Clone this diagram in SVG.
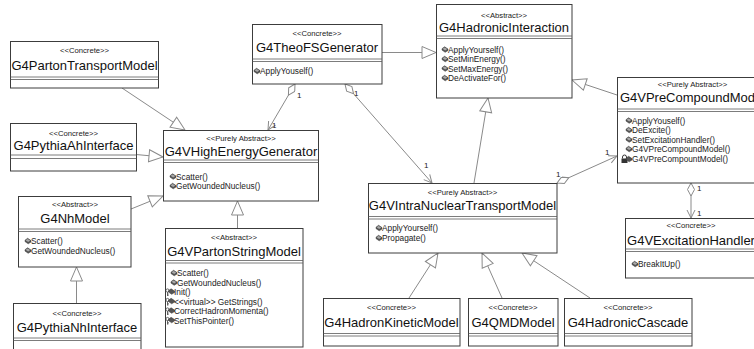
<svg xmlns="http://www.w3.org/2000/svg" xmlns:xlink="http://www.w3.org/1999/xlink" width="754" height="349" viewBox="0 0 754 349">
  <style>
    .box { fill: #ffffff; stroke: #3c3c3c; stroke-width: 1; }
    .sep { stroke: #5a5a5a; stroke-width: 0.8; fill: none; }
    .st { font-family: "Liberation Sans", Arial, sans-serif; font-size: 7.7px; fill: #222; text-anchor: middle; }
    .nm { font-family: "Liberation Sans", Arial, sans-serif; font-size: 13px; fill: #111; text-anchor: middle; }
    .op { font-family: "Liberation Sans", Arial, sans-serif; font-size: 8.3px; fill: #222; }
    .mul { font-family: "Liberation Sans", Arial, sans-serif; font-size: 8px; fill: #222; }
    .gen { stroke: #8a8a8a; stroke-width: 1; fill: none; marker-end: url(#tri); }
    .agg { stroke: #8a8a8a; stroke-width: 1; fill: none; marker-start: url(#dia); marker-end: url(#open); }
  </style>
  <defs>
    <!-- hollow generalization triangle -->
    <marker id="tri" viewBox="0 0 16 14" refX="15" refY="7" markerWidth="16" markerHeight="14" markerUnits="userSpaceOnUse" orient="auto">
      <path d="M1,1 L15,7 L1,13 Z" fill="#fff" stroke="#8a8a8a" stroke-width="1"/>
    </marker>
    <!-- open navigability arrow -->
    <marker id="open" viewBox="0 0 10 10" refX="9" refY="5" markerWidth="10" markerHeight="10" markerUnits="userSpaceOnUse" orient="auto">
      <path d="M1,1 L9,5 L1,9" fill="none" stroke="#8a8a8a" stroke-width="1"/>
    </marker>
    <!-- hollow aggregation diamond -->
    <marker id="dia" viewBox="0 0 14 8" refX="0.5" refY="4" markerWidth="14" markerHeight="8" markerUnits="userSpaceOnUse" orient="auto">
      <path d="M0.5,4 L7,0.5 L13.5,4 L7,7.5 Z" fill="#fff" stroke="#8a8a8a" stroke-width="1"/>
    </marker>
    <!-- public operation icon -->
    <symbol id="pub" viewBox="0 0 6 6" width="6" height="6" overflow="visible">
      <path d="M0,2.2 L2.6,0.3 L6,2.6 L6,4 L3.2,5.8 L0,3.6 Z" fill="#555" stroke="#333" stroke-width="0.5"/>
      <path d="M0.6,2.3 L2.6,0.9 L5.2,2.6 L3.2,4 Z" fill="#aaa"/>
    </symbol>
    <!-- protected operation icon (key + brick) -->
    <symbol id="prot" viewBox="0 0 9 8" width="9" height="8" overflow="visible">
      <circle cx="2" cy="2" r="1.6" fill="none" stroke="#444" stroke-width="0.8"/>
      <path d="M2,3.6 L2,7.5 M2,5.5 L3.2,5.5 M2,6.8 L3.2,6.8" stroke="#444" stroke-width="0.8"/>
      <path d="M3,2.2 L5.6,0.3 L9,2.6 L9,4 L6.2,5.8 L3,3.6 Z" fill="#555" stroke="#333" stroke-width="0.5"/>
    </symbol>
    <!-- private operation icon (lock + brick) -->
    <symbol id="priv" viewBox="0 0 11 8" width="11" height="8" overflow="visible">
      <path d="M1.5,3.5 L1.5,2 A2,2 0 0 1 5.5,2 L5.5,3.5" fill="none" stroke="#222" stroke-width="0.9"/>
      <rect x="0.5" y="3.5" width="6" height="4.5" fill="#333"/>
      <path d="M5,3.2 L7.6,1.3 L11,3.6 L11,5 L8.2,6.8 L5,4.6 Z" fill="#555" stroke="#333" stroke-width="0.5"/>
    </symbol>
  </defs>

  <!-- connectors -->
  <g id="connectors">
    <!-- generalizations -->
    <line class="gen" x1="122" y1="88" x2="185" y2="130"/>
    <line class="gen" x1="136" y1="154.5" x2="163" y2="157"/>
    <line class="gen" x1="131" y1="209" x2="163" y2="196"/>
    <line class="gen" x1="76.5" y1="303" x2="76.5" y2="267"/>
    <line class="gen" x1="237.5" y1="228" x2="237.5" y2="201"/>
    <line class="gen" x1="382" y1="52.5" x2="436" y2="52.5"/>
    <line class="gen" x1="474" y1="183" x2="488" y2="98"/>
    <line class="gen" x1="617" y1="95" x2="572" y2="80"/>
    <line class="gen" x1="409" y1="298" x2="438" y2="253"/>
    <line class="gen" x1="502" y1="298" x2="482" y2="253"/>
    <line class="gen" x1="590" y1="298" x2="522" y2="253"/>
    <!-- aggregations -->
    <line class="agg" x1="295" y1="84" x2="268" y2="130"/>
    <line class="agg" x1="345" y1="84" x2="432" y2="183"/>
    <line class="agg" x1="557" y1="183" x2="617" y2="156"/>
    <line class="agg" x1="691" y1="183" x2="691" y2="218"/>
    <!-- multiplicities -->
    <text class="mul" x="297" y="98">1</text>
    <text class="mul" x="272" y="128">1</text>
    <text class="mul" x="354" y="96">1</text>
    <text class="mul" x="424" y="168">1</text>
    <text class="mul" x="556" y="177">1</text>
    <text class="mul" x="605" y="155">1</text>
    <text class="mul" x="697" y="191">1</text>
    <text class="mul" x="697" y="216">1</text>
  </g>

  <!-- class boxes -->
  <g id="G4PartonTransportModel">
    <rect class="box" x="10.5" y="41.5" width="148" height="46.5"/>
    <line class="sep" x1="10.5" y1="77" x2="158.5" y2="77"/>
    <line class="sep" x1="10.5" y1="79.5" x2="158.5" y2="79.5"/>
    <text class="st" x="84.5" y="53">&lt;&lt;Concrete&gt;&gt;</text>
    <text class="nm" x="84.5" y="70">G4PartonTransportModel</text>
  </g>

  <g id="G4PythiaAhInterface">
    <rect class="box" x="10.5" y="123.5" width="126" height="47.5"/>
    <line class="sep" x1="10.5" y1="155" x2="136.5" y2="155"/>
    <line class="sep" x1="10.5" y1="158.5" x2="136.5" y2="158.5"/>
    <text class="st" x="73.5" y="136">&lt;&lt;Concrete&gt;&gt;</text>
    <text class="nm" x="73.5" y="150">G4PythiaAhInterface</text>
  </g>

  <g id="G4VHighEnergyGenerator">
    <rect class="box" x="163.5" y="130.5" width="155" height="70.5"/>
    <line class="sep" x1="163.5" y1="160" x2="318.5" y2="160"/>
    <line class="sep" x1="163.5" y1="162.5" x2="318.5" y2="162.5"/>
    <text class="st" x="241" y="141">&lt;&lt;Purely Abstract&gt;&gt;</text>
    <text class="nm" x="241" y="156">G4VHighEnergyGenerator</text>
    <use href="#pub" x="170" y="173.5"/>
    <text class="op" x="176" y="179.5">Scatter()</text>
    <use href="#pub" x="170" y="183"/>
    <text class="op" x="176" y="189">GetWoundedNucleus()</text>
  </g>

  <g id="G4NhModel">
    <rect class="box" x="18.5" y="196.5" width="112.5" height="70.5"/>
    <line class="sep" x1="18.5" y1="229" x2="131" y2="229"/>
    <line class="sep" x1="18.5" y1="231.5" x2="131" y2="231.5"/>
    <text class="st" x="75" y="207">&lt;&lt;Abstract&gt;&gt;</text>
    <text class="nm" x="75" y="223">G4NhModel</text>
    <use href="#pub" x="25" y="238"/>
    <text class="op" x="31" y="244">Scatter()</text>
    <use href="#pub" x="25" y="247.5"/>
    <text class="op" x="31" y="253.5">GetWoundedNucleus()</text>
  </g>

  <g id="G4PythiaNhInterface">
    <rect class="box" x="13.5" y="303.5" width="127.5" height="60"/>
    <line class="sep" x1="13.5" y1="338" x2="141" y2="338"/>
    <line class="sep" x1="13.5" y1="340.5" x2="141" y2="340.5"/>
    <text class="st" x="77" y="316">&lt;&lt;Concrete&gt;&gt;</text>
    <text class="nm" x="77" y="332">G4PythiaNhInterface</text>
  </g>

  <g id="G4VPartonStringModel">
    <rect class="box" x="165.5" y="228.5" width="137.5" height="118.5"/>
    <line class="sep" x1="165.5" y1="260.5" x2="303" y2="260.5"/>
    <line class="sep" x1="165.5" y1="263" x2="303" y2="263"/>
    <text class="st" x="234" y="240">&lt;&lt;Abstract&gt;&gt;</text>
    <text class="nm" x="234" y="256">G4VPartonStringModel</text>
    <use href="#pub" x="171" y="270"/>
    <text class="op" x="177" y="276">Scatter()</text>
    <use href="#pub" x="171" y="279.5"/>
    <text class="op" x="177" y="285.5">GetWoundedNucleus()</text>
    <use href="#prot" x="165.5" y="288.5"/>
    <text class="op" x="174" y="295">Init()</text>
    <use href="#prot" x="165.5" y="298"/>
    <text class="op" x="174" y="304.5">&lt;&lt;virtual&gt;&gt; GetStrings()</text>
    <use href="#prot" x="165.5" y="307.5"/>
    <text class="op" x="174" y="314">CorrectHadronMomenta()</text>
    <use href="#prot" x="165.5" y="317"/>
    <text class="op" x="174" y="323.5">SetThisPointer()</text>
  </g>

  <g id="G4TheoFSGenerator">
    <rect class="box" x="252.5" y="24.5" width="129.5" height="59.5"/>
    <line class="sep" x1="252.5" y1="59" x2="382" y2="59"/>
    <line class="sep" x1="252.5" y1="61.5" x2="382" y2="61.5"/>
    <text class="st" x="317" y="36">&lt;&lt;Concrete&gt;&gt;</text>
    <text class="nm" x="317" y="52">G4TheoFSGenerator</text>
    <use href="#pub" x="254" y="68"/>
    <text class="op" x="260" y="74">ApplyYouself()</text>
  </g>

  <g id="G4HadronicInteraction">
    <rect class="box" x="436.5" y="4.5" width="135.5" height="93.5"/>
    <line class="sep" x1="436.5" y1="36" x2="572" y2="36"/>
    <line class="sep" x1="436.5" y1="38.5" x2="572" y2="38.5"/>
    <text class="st" x="504" y="18">&lt;&lt;Abstract&gt;&gt;</text>
    <text class="nm" x="504" y="32">G4HadronicInteraction</text>
    <use href="#pub" x="442" y="46.5"/>
    <text class="op" x="448" y="52.5">ApplyYourself()</text>
    <use href="#pub" x="442" y="56"/>
    <text class="op" x="448" y="62">SetMinEnergy()</text>
    <use href="#pub" x="442" y="65.5"/>
    <text class="op" x="448" y="71.5">SetMaxEnergy()</text>
    <use href="#pub" x="442" y="75"/>
    <text class="op" x="448" y="81">DeActivateFor()</text>
  </g>

  <g id="G4VPreCompoundModel">
    <rect class="box" x="617.5" y="77.5" width="151" height="105.5"/>
    <line class="sep" x1="617.5" y1="109" x2="768.5" y2="109"/>
    <line class="sep" x1="617.5" y1="111.5" x2="768.5" y2="111.5"/>
    <text class="st" x="692.5" y="87">&lt;&lt;Purely Abstract&gt;&gt;</text>
    <text class="nm" x="692.5" y="102">G4VPreCompoundModel</text>
    <use href="#pub" x="626" y="117.5"/>
    <text class="op" x="632" y="123.5">ApplyYouself()</text>
    <use href="#pub" x="626" y="127"/>
    <text class="op" x="632" y="133">DeExcite()</text>
    <use href="#pub" x="626" y="136.5"/>
    <text class="op" x="632" y="142.5">SetExcitationHandler()</text>
    <use href="#pub" x="626" y="146"/>
    <text class="op" x="632" y="152">G4VPreCompoundModel()</text>
    <use href="#priv" x="621" y="155"/>
    <text class="op" x="632" y="161.5">G4VPreCompountModel()</text>
  </g>

  <g id="G4VExcitationHandler">
    <rect class="box" x="625.5" y="218.5" width="132" height="59.5"/>
    <line class="sep" x1="625.5" y1="249" x2="757.5" y2="249"/>
    <line class="sep" x1="625.5" y1="251.5" x2="757.5" y2="251.5"/>
    <text class="st" x="691" y="228">&lt;&lt;Concrete&gt;&gt;</text>
    <text class="nm" x="691" y="245">G4VExcitationHandler</text>
    <use href="#pub" x="632" y="261"/>
    <text class="op" x="638" y="267">BreakItUp()</text>
  </g>

  <g id="G4VIntraNuclearTransportModel">
    <rect class="box" x="368.5" y="183.5" width="188.5" height="69.5"/>
    <line class="sep" x1="368.5" y1="216.5" x2="557" y2="216.5"/>
    <line class="sep" x1="368.5" y1="219" x2="557" y2="219"/>
    <text class="st" x="462.5" y="195">&lt;&lt;Purely Abstract&gt;&gt;</text>
    <text class="nm" x="462.5" y="210">G4VIntraNuclearTransportModel</text>
    <use href="#pub" x="376" y="225"/>
    <text class="op" x="382" y="231">ApplyYourself()</text>
    <use href="#pub" x="376" y="235"/>
    <text class="op" x="382" y="241">Propagate()</text>
  </g>

  <g id="G4HadronKineticModel">
    <rect class="box" x="323.5" y="298.5" width="136.5" height="47.5"/>
    <line class="sep" x1="323.5" y1="333.5" x2="460" y2="333.5"/>
    <line class="sep" x1="323.5" y1="336" x2="460" y2="336"/>
    <text class="st" x="391.5" y="310">&lt;&lt;Concrete&gt;&gt;</text>
    <text class="nm" x="391.5" y="327">G4HadronKineticModel</text>
  </g>

  <g id="G4QMDModel">
    <rect class="box" x="468.5" y="298.5" width="89.5" height="47.5"/>
    <line class="sep" x1="468.5" y1="333.5" x2="558" y2="333.5"/>
    <line class="sep" x1="468.5" y1="336" x2="558" y2="336"/>
    <text class="st" x="513" y="310">&lt;&lt;Concrete&gt;&gt;</text>
    <text class="nm" x="513" y="327">G4QMDModel</text>
  </g>

  <g id="G4HadronicCascade">
    <rect class="box" x="564.5" y="298.5" width="127.5" height="47.5"/>
    <line class="sep" x1="564.5" y1="333.5" x2="692" y2="333.5"/>
    <line class="sep" x1="564.5" y1="336" x2="692" y2="336"/>
    <text class="st" x="628" y="310">&lt;&lt;Concrete&gt;&gt;</text>
    <text class="nm" x="628" y="327">G4HadronicCascade</text>
  </g>
</svg>
